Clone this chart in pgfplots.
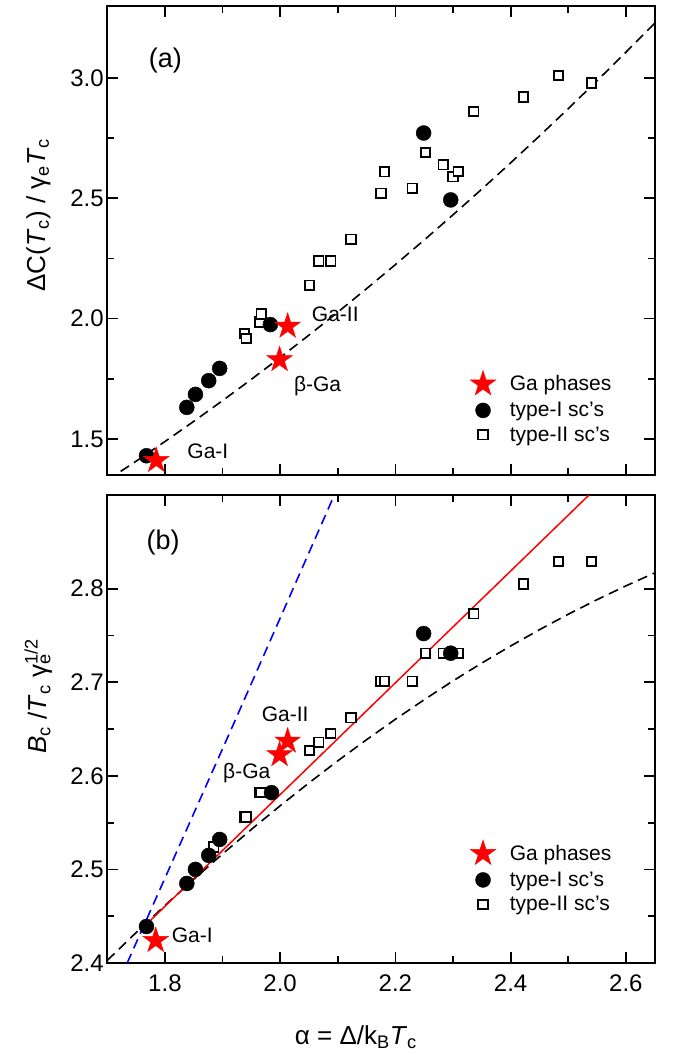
\documentclass[border=0pt]{standalone}
\usepackage{fontspec}
\setmainfont{Liberation Sans}
\usepackage{pgfplots}
\pgfplotsset{compat=1.18}
\newcommand{\ap}{\symbol{39}}
\pgfdeclareplotmark{fstar}{%
  \pgfpathmoveto{\pgfpointpolar{90}{\pgfplotmarksize}}%
  \pgfpathlineto{\pgfpointpolar{126}{0.382\pgfplotmarksize}}%
  \pgfpathlineto{\pgfpointpolar{162}{\pgfplotmarksize}}%
  \pgfpathlineto{\pgfpointpolar{198}{0.382\pgfplotmarksize}}%
  \pgfpathlineto{\pgfpointpolar{234}{\pgfplotmarksize}}%
  \pgfpathlineto{\pgfpointpolar{270}{0.382\pgfplotmarksize}}%
  \pgfpathlineto{\pgfpointpolar{306}{\pgfplotmarksize}}%
  \pgfpathlineto{\pgfpointpolar{342}{0.382\pgfplotmarksize}}%
  \pgfpathlineto{\pgfpointpolar{18}{\pgfplotmarksize}}%
  \pgfpathlineto{\pgfpointpolar{54}{0.382\pgfplotmarksize}}%
  \pgfpathclose
  \pgfusepathqfillstroke
}
\pgfplotsset{
  myax/.style={
    scale only axis, width=547.4pt,
    xmin=1.7, xmax=2.65,
    xtick={1.8,2.0,2.2,2.4,2.6}, minor x tick num=1, minor y tick num=1,
    tick align=inside, tick pos=both,
    major tick length=11pt, minor tick length=7pt,
    axis line style={line width=1.8pt},
    tick style={line width=1.8pt, black},
    ticklabel style={font=\fontsize{24}{28}\selectfont},
    /pgf/number format/assume math mode=true,
    /pgf/number format/fixed, /pgf/number format/fixed zerofill,
    /pgf/number format/precision=1,
    xticklabel style={yshift=-8pt},
    label style={font=\fontsize{26}{30}\selectfont},
    reverse legend,
    legend cell align=left,
    legend image code/.code={\draw[mark repeat=2,mark phase=2,#1] plot coordinates {(0pt,0pt) (30pt,0pt) (60pt,0pt)};},
  },
  sqs/.style={only marks, mark=square*, mark size=4.7pt, mark options={fill=white, draw=black, line width=1.8pt}},
  crc/.style={only marks, mark=*, mark size=7.5pt, mark options={fill=black, draw=black}},
  sts/.style={only marks, mark=fstar, mark size=13.5pt, mark options={fill=red, draw=red, line width=0.4pt}},
  dsh/.style={line width=1.6pt, dash pattern=on 10pt off 6pt, forget plot},
}
\begin{document}
\begin{tikzpicture}
\path[use as bounding box] (0pt,0pt) rectangle (674pt,-1055pt);
% ---------------- (a) ----------------
\begin{axis}[myax, at={(107.3pt,-5.7pt)}, anchor=north west, height=469.3pt,
  ymin=1.35, ymax=3.3, ytick={1.5,2.0,2.5,3.0}, xticklabels={},
  ylabel={ΔC(\textit{T}\textsubscript{c}) / γ\textsubscript{e}\textit{T}\textsubscript{c}},
  ylabel style={at={(axis description cs:-0.126,0.554)}, anchor=center},
  legend style={at={(0.6626,0.2231)}, anchor=north west, draw=none, fill=none, inner sep=0pt,
    font=\fontsize{21}{24}\selectfont, row sep=6.5pt, nodes={inner sep=1pt}},
]
\addplot[black, dsh] coordinates {
(1.70,1.3281) (1.75,1.4074) (1.80,1.4890) (1.85,1.5729) (1.90,1.6590) (1.95,1.7475)
(2.00,1.8382) (2.05,1.9313) (2.10,2.0266) (2.15,2.1243) (2.20,2.2243) (2.25,2.3265)
(2.30,2.4311) (2.35,2.5379) (2.40,2.6470) (2.45,2.7585) (2.50,2.8722) (2.55,2.9883)
(2.60,3.1066) (2.65,3.2273)};
\addplot[sqs] coordinates {
(1.938,1.938) (1.941,1.917) (1.965,1.986) (1.967,2.019) (2.051,2.139) (2.067,2.239)
(2.088,2.239) (2.123,2.330) (2.175,2.521) (2.181,2.610) (2.229,2.542) (2.252,2.690)
(2.283,2.639) (2.300,2.589) (2.309,2.611) (2.336,2.860) (2.422,2.921) (2.483,3.010)
(2.540,2.979)};
\addlegendentry{\hspace{13pt}type-II sc\ap s}
\addplot[crc] coordinates {
(1.768,1.430) (1.838,1.631) (1.853,1.685) (1.876,1.742) (1.895,1.793) (1.983,1.975)
(2.249,2.771) (2.296,2.493)};
\addlegendentry{\hspace{13pt}type-I sc\ap s}
\addplot[sts] coordinates {(1.785,1.410) (1.999,1.829) (2.013,1.968)};
\addlegendentry{\hspace{13pt}Ga phases}
\node[anchor=west, font=\fontsize{27}{30}\selectfont] at (axis cs:1.766,3.072) {(a)};
\node[anchor=west, font=\fontsize{21}{24}\selectfont] at (axis cs:1.833,1.447) {Ga-I};
\node[anchor=west, font=\fontsize{21}{24}\selectfont] at (axis cs:2.049,2.017) {Ga-II};
\node[anchor=west, font=\fontsize{21}{24}\selectfont] at (axis cs:2.018,1.721) {β-Ga};
\end{axis}
% ---------------- (b) ----------------
\begin{axis}[myax, at={(107.3pt,-495pt)}, anchor=north west, height=468pt,
  ymin=2.4, ymax=2.9, ytick={2.4,2.5,2.6,2.7,2.8},
  xlabel={α = Δ/k\textsubscript{B}\textit{T}\textsubscript{c}},
  xlabel style={at={(axis description cs:0.454,-0.158)}, anchor=center},
  ylabel={\textit{B}\textsubscript{c} /\textit{T}\textsubscript{c} γ\rlap{\textsubscript{e}}\textsuperscript{1/2}},
  ylabel style={at={(axis description cs:-0.126,0.57)}, anchor=center},
  legend style={at={(0.6626,0.2632)}, anchor=north west, draw=none, fill=none, inner sep=0pt,
    font=\fontsize{21}{24}\selectfont, row sep=6.5pt, nodes={inner sep=1pt}},
]
\addplot[black, dsh] coordinates {
(1.70,2.4028) (1.75,2.4325) (1.80,2.4614) (1.85,2.4894) (1.90,2.5165) (1.95,2.5427)
(2.00,2.5680) (2.05,2.5924) (2.10,2.6160) (2.15,2.6386) (2.20,2.6604) (2.25,2.6813)
(2.30,2.7014) (2.35,2.7205) (2.40,2.7387) (2.45,2.7561) (2.50,2.7726) (2.55,2.7882)
(2.60,2.8029) (2.65,2.8168)};
\addplot[blue, dsh] coordinates {(1.7345,2.400) (1.916,2.651) (2.094,2.900)};
\addplot[red, line width=1.5pt, forget plot] coordinates {(1.764,2.439) (2.536,2.900)};
\addplot[sqs] coordinates {
(1.885,2.524) (1.938,2.556) (1.941,2.556) (1.965,2.582) (1.967,2.582) (2.051,2.627)
(2.067,2.636) (2.088,2.645) (2.123,2.662) (2.175,2.701) (2.181,2.701) (2.229,2.701)
(2.252,2.731) (2.283,2.731) (2.300,2.731) (2.309,2.731) (2.336,2.773) (2.422,2.805)
(2.483,2.829) (2.540,2.829)};
\addlegendentry{\hspace{13pt}type-II sc\ap s}
\addplot[crc] coordinates {
(1.768,2.439) (1.838,2.485) (1.853,2.500) (1.876,2.515) (1.895,2.532) (1.985,2.582)
(2.249,2.752) (2.296,2.731)};
\addlegendentry{\hspace{13pt}type-I sc\ap s}
\addplot[sts] coordinates {(1.784,2.424) (1.999,2.6225) (2.013,2.637)};
\addlegendentry{\hspace{13pt}Ga phases}
\node[anchor=west, font=\fontsize{27}{30}\selectfont] at (axis cs:1.762,2.849) {(b)};
\node[anchor=west, font=\fontsize{21}{24}\selectfont] at (axis cs:1.806,2.4296) {Ga-I};
\node[anchor=west, font=\fontsize{21}{24}\selectfont] at (axis cs:1.962,2.6654) {Ga-II};
\node[anchor=west, font=\fontsize{21}{24}\selectfont] at (axis cs:1.895,2.6029) {β-Ga};
\end{axis}
\end{tikzpicture}
\end{document}
